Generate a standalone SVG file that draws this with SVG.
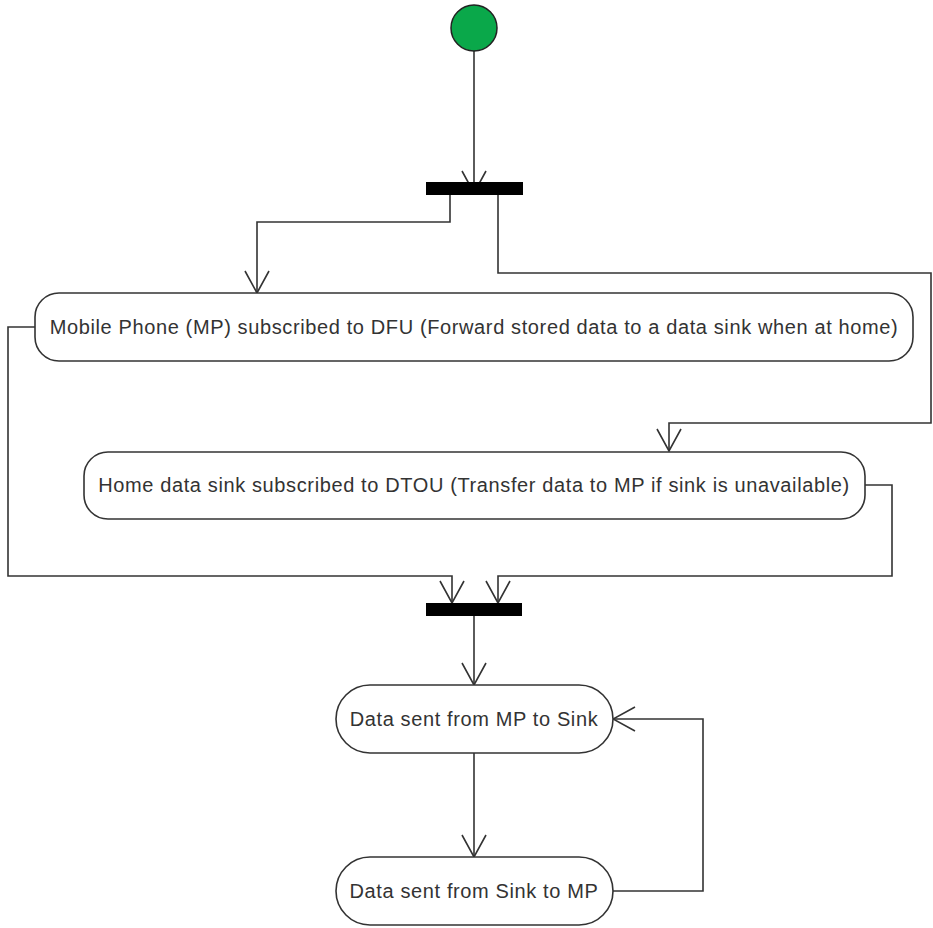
<svg xmlns="http://www.w3.org/2000/svg" width="933" height="928" viewBox="0 0 933 928">
  <style>
    .edge { fill: none; stroke: #333; stroke-width: 1.6; }
    .act { fill: #fff; stroke: #333; stroke-width: 1.6; }
    .bar { fill: #000; }
    .lbl { font-family: "Liberation Sans", Arial, sans-serif; font-size: 20px; fill: #333; text-anchor: middle; letter-spacing: 0.62px; }
  </style>
  <defs>
    <marker id="open" markerUnits="userSpaceOnUse" viewBox="0 0 24 26" refX="23" refY="13" markerWidth="24" markerHeight="26" orient="auto">
      <path d="M1,1 L23,13 L1,25" fill="none" stroke="#333" stroke-width="1.6"/>
    </marker>
  </defs>
  <rect width="933" height="928" fill="#fff"/>

  <g id="connectors">
    <path class="edge" d="M474,51 V193" marker-end="url(#open)"/>
    <path class="edge" d="M450,195 V222 H257 V293" marker-end="url(#open)"/>
    <path class="edge" d="M498,195 V273 H931 V423 H669 V451" marker-end="url(#open)"/>
    <path class="edge" d="M35,327 H8 V576 H452 V603" marker-end="url(#open)"/>
    <path class="edge" d="M865,485 H892 V576 H498 V603" marker-end="url(#open)"/>
    <path class="edge" d="M474,616 V685" marker-end="url(#open)"/>
    <path class="edge" d="M474,753 V857" marker-end="url(#open)"/>
    <path class="edge" d="M613,891 H703 V719 H613" marker-end="url(#open)"/>
  </g>

  <g id="start">
    <circle cx="474" cy="28" r="23" fill="#0aa84a" stroke="#222" stroke-width="1.5"/>
  </g>

  <g id="fork">
    <rect class="bar" x="426" y="182" width="97" height="13"/>
  </g>

  <g id="subscribe-dfu">
    <rect class="act" x="35" y="293" width="878" height="68" rx="24" ry="24"/>
    <text class="lbl" x="474" y="334">Mobile Phone (MP) subscribed to DFU (Forward stored data to a data sink when at home)</text>
  </g>

  <g id="subscribe-dtou">
    <rect class="act" x="84" y="452" width="781" height="67" rx="24" ry="24"/>
    <text class="lbl" x="474" y="492">Home data sink subscribed to DTOU (Transfer data to MP if sink is unavailable)</text>
  </g>

  <g id="join">
    <rect class="bar" x="426" y="603" width="96" height="13"/>
  </g>

  <g id="mp-to-sink">
    <rect class="act" x="336" y="685" width="277" height="68" rx="34" ry="34"/>
    <text class="lbl" x="474" y="726">Data sent from MP to Sink</text>
  </g>

  <g id="sink-to-mp">
    <rect class="act" x="336" y="857" width="277" height="68" rx="34" ry="34"/>
    <text class="lbl" x="474" y="898">Data sent from Sink to MP</text>
  </g>
</svg>
